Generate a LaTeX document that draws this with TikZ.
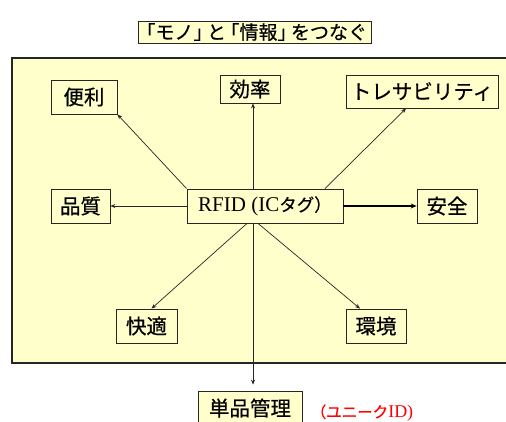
\documentclass[tikz,border=0pt]{standalone}
\usepackage{fontspec}
\setmainfont{Liberation Serif}
\newfontfamily\cjk[FakeBold=0.5]{Noto Sans CJK JP}
\usetikzlibrary{arrows.meta,calc}
\definecolor{paleyellow}{HTML}{FFFFCC}
\definecolor{redtext}{HTML}{FF0000}
\tikzset{
  box/.style={draw=black!85, line width=0.8pt, fill=paleyellow, inner sep=0pt, anchor=center,
    font=\cjk\fontsize{20.5}{20.5}\selectfont},
  conn/.style={line width=0.7pt, black!85, -{Stealth[length=5pt,width=4pt]}},
  thickconn/.style={line width=1.4pt, black, -{Stealth[length=6pt,width=5pt]}},
}
\begin{document}
\begin{tikzpicture}[x=1pt,y=-1pt]
\clip (0,0) rectangle (506,421);
\fill[white] (0,0) rectangle (506,421);
% big panel
\draw[fill=paleyellow, draw=black!85, line width=1.3pt] (12,58) rectangle (520,363);
% title
\node[box, minimum width=233pt, minimum height=22pt, font=\cjk\fontsize{19}{19}\selectfont] (title) at (254.5,32)
  {\kern-5.5pt「モノ」\kern-5.5pt と\kern-5.5pt「情報」\kern-5.5pt をつなぐ};
% nodes
\node[box, minimum width=66pt, minimum height=34pt] (benri) at (84,97) {便利};
\node[box, minimum width=60pt, minimum height=28pt] (kouritsu) at (250,89) {効率};
\node[box, minimum width=152pt, minimum height=33pt] (trace) at (422,91.5) {トレサビリティ};
\node[box, minimum width=59pt, minimum height=34pt] (hinshitsu) at (80.5,206) {品質};
\node[box, minimum width=60pt, minimum height=34pt] (anzen) at (447,206) {安全};
\node[box, minimum width=61pt, minimum height=34pt] (kaiteki) at (146.5,326) {快適};
\node[box, minimum width=60pt, minimum height=34pt] (kankyo) at (376,326) {環境};
\node[box, minimum width=104pt, minimum height=34pt] (tanpin) at (250,408) {単品管理};
\node[box, minimum width=156pt, minimum height=34pt, font=\fontsize{21}{21}\selectfont] (rfid) at (265,206) {RFID (IC{\cjk\fontsize{17.5}{17.5}\selectfont タグ）}};
\node[anchor=center, inner sep=0pt, text=redtext] (unique) at (362,413)
  {{\cjk\fontsize{15.5}{15.5}\selectfont （ユニーク}{\fontsize{18}{18}\selectfont ID)}};
% connectors
\draw[conn] (rfid.north west) -- (benri.south east);
\draw[conn] ($(rfid.north)+(-12,0)$) -- ($(kouritsu.south)+(3,0)$);
\draw[conn] ($(rfid.north)+(60,0)$) -- ($(trace.south)+(-16,0)$);
\draw[conn] (rfid.west) -- (hinshitsu.east);
\draw[thickconn] (rfid.east) -- (anzen.west);
\draw[conn] ($(rfid.south)+(-18,0)$) -- ($(kaiteki.north)+(5,0)$);
\draw[conn] ($(rfid.south)+(-7,0)$) -- ($(kankyo.north)+(-16,0)$);
\draw[conn] ($(rfid.south)+(-12,0)$) -- ($(tanpin.north)+(3,-6)$);
\end{tikzpicture}
\end{document}
